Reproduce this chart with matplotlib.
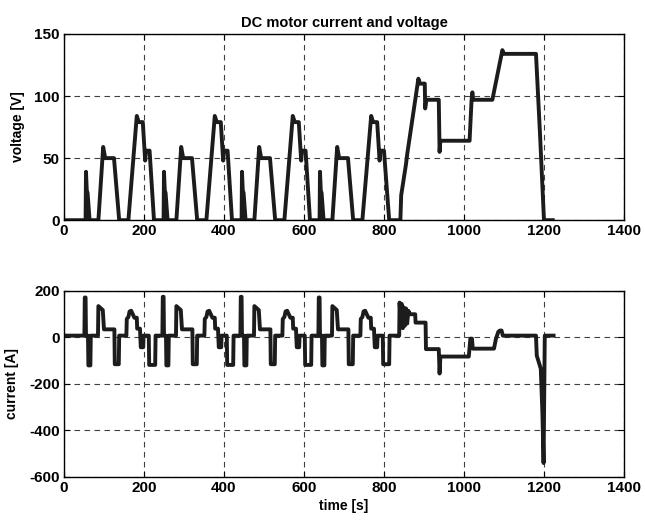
import matplotlib
matplotlib.use("Agg")
import matplotlib.pyplot as plt

plt.rcParams['font.family'] = ['Liberation Sans', 'DejaVu Sans']
plt.rcParams['font.weight'] = 'bold'

# motor voltage [V] vs time [s]
volt_t = [0, 54, 55, 57, 59, 64, 86, 98, 103, 125, 138, 161, 182, 187, 197, 203, 205, 214, 225,
          249, 250, 252, 254, 259, 281, 293, 298, 320, 333, 356, 377, 382, 392, 398, 400, 409, 420,
          444, 445, 447, 449, 454, 476, 488, 493, 515, 528, 551, 572, 577, 587, 593, 595, 604, 615,
          639, 640, 642, 644, 649, 671, 683, 688, 710, 723, 746, 768, 773, 783, 789, 791, 800, 813,
          841, 843, 855, 858, 886, 890, 902, 903, 906, 937, 939, 941, 1014, 1019, 1021, 1023,
          1071, 1096, 1100, 1180, 1190, 1200, 1222]
volt_v = [0, 0, 39, 24, 22, 0, 0, 59, 50, 50, 0, 0, 84, 79, 79, 48, 56, 56, 0,
          0, 39, 24, 22, 0, 0, 59, 50, 50, 0, 0, 84, 79, 79, 48, 56, 56, 0,
          0, 39, 24, 22, 0, 0, 59, 50, 50, 0, 0, 84, 79, 79, 48, 56, 56, 0,
          0, 39, 24, 22, 0, 0, 59, 50, 50, 0, 0, 84, 79, 79, 48, 56, 56, 0,
          0, 20, 45, 53, 114, 110, 110, 90, 97, 97, 55, 64, 64, 97, 103, 97,
          97, 137, 134, 134, 70, 0, 0]

# motor current [A] vs time [s]
curr_t = [0, 51, 52, 54, 55, 60, 61, 66, 67, 85, 86, 97, 100, 126, 127, 137, 138, 156, 157, 161, 164, 168,
          172, 176, 182, 183, 190, 192, 198, 199, 212, 213, 228, 229,
          246, 247, 249, 250, 255, 256, 261, 262, 280, 281, 292, 295, 321, 322, 332, 333, 351, 352, 356, 359, 363,
          367, 371, 377, 378, 385, 387, 393, 394, 407, 408, 423, 424,
          441, 442, 444, 445, 450, 451, 456, 457, 475, 476, 487, 490, 516, 517, 527, 528, 546, 547, 551, 554, 558,
          562, 566, 572, 573, 580, 582, 588, 589, 602, 603, 618, 619,
          636, 637, 639, 640, 645, 646, 651, 652, 670, 671, 682, 685, 711, 712, 722, 723, 741, 742, 746, 749, 753,
          757, 761, 767, 768, 775, 777, 783, 784, 797, 798, 813, 814,
          838, 839, 842, 844, 847, 849, 852, 855, 858, 861, 865, 878, 879, 904, 905, 937, 939, 941,
          1012, 1016, 1020, 1022, 1075, 1080, 1086, 1090, 1094, 1097, 1180, 1182, 1192, 1196, 1199,
          1202, 1224]
curr_v = [8, 8, 172, 172, 8, 8, -120, -120, 8, 8, 135, 118, 35, 35, -115, -115, 8, 8, 80, 88, 112, 115,
          100, 85, 85, 38, 38, -42, -42, 8, 8, -118, -118, 8,
          8, 175, 175, 8, 8, -120, -120, 8, 8, 135, 118, 35, 35, -115, -115, 8, 8, 80, 88, 112, 115,
          100, 85, 85, 38, 38, -42, -42, 8, 8, -118, -118, 8,
          8, 175, 175, 8, 8, -120, -120, 8, 8, 135, 118, 35, 35, -115, -115, 8, 8, 80, 88, 112, 115,
          100, 85, 85, 38, 38, -42, -42, 8, 8, -118, -118, 8,
          8, 172, 172, 8, 8, -120, -120, 8, 8, 135, 118, 35, 35, -115, -115, 8, 8, 80, 88, 112, 115,
          100, 85, 85, 38, 38, -42, -42, 8, 8, -115, -115, 8,
          8, 150, 60, 145, 40, 130, 50, 125, 60, 115, 100, 100, 64, 64, -50, -50, -155, -82,
          -82, -5, -5, -48, -48, -5, 25, 30, 30, 8, 8, -78, -134, -320, -540,
          8, 8]

x_ticks = [0, 200, 400, 600, 800, 1000, 1200, 1400]
volt_ticks = [0, 50, 100, 150]
curr_ticks = [-600, -400, -200, 0, 200]

fig = plt.figure(figsize=(6.45, 5.23), dpi=100)
ax1 = fig.add_axes([0.0992, 0.579, 0.8682, 0.356])
ax2 = fig.add_axes([0.0992, 0.088, 0.8682, 0.3556])

line_kw = dict(color='#1c1c1c', lw=2.8, solid_joinstyle='round')
ax1.plot(volt_t, volt_v, **line_kw)
ax2.plot(curr_t, curr_v, **line_kw)

for ax, yt in ((ax1, volt_ticks), (ax2, curr_ticks)):
    ax.set_xlim(0, 1400)
    ax.set_ylim(yt[0], yt[-1])
    ax.set_xticks(x_ticks)
    ax.set_xticklabels([str(v) for v in x_ticks])
    ax.set_yticks(yt)
    ax.set_yticklabels([str(v) for v in yt])
    ax.grid(True, color='#404040', linestyle=(0, (5, 4)), lw=0.8)
    ax.tick_params(direction='in', length=4, width=0.8, top=True, right=True,
                   labelsize=11, pad=3)
    for s in ax.spines.values():
        s.set_linewidth(1.0)
    for lab in ax.get_xticklabels() + ax.get_yticklabels():
        lab.set_fontweight('bold')

ax1.set_title('DC motor current and voltage', fontsize=10.5, fontweight='bold', pad=5)
ax1.set_ylabel('voltage [V]', fontsize=10, fontweight='bold', labelpad=7)
ax2.set_ylabel('current [A]', fontsize=10, fontweight='bold', labelpad=7)
ax2.set_xlabel('time [s]', fontsize=10, fontweight='bold', labelpad=3)

fig.savefig('out.png', dpi=100)
